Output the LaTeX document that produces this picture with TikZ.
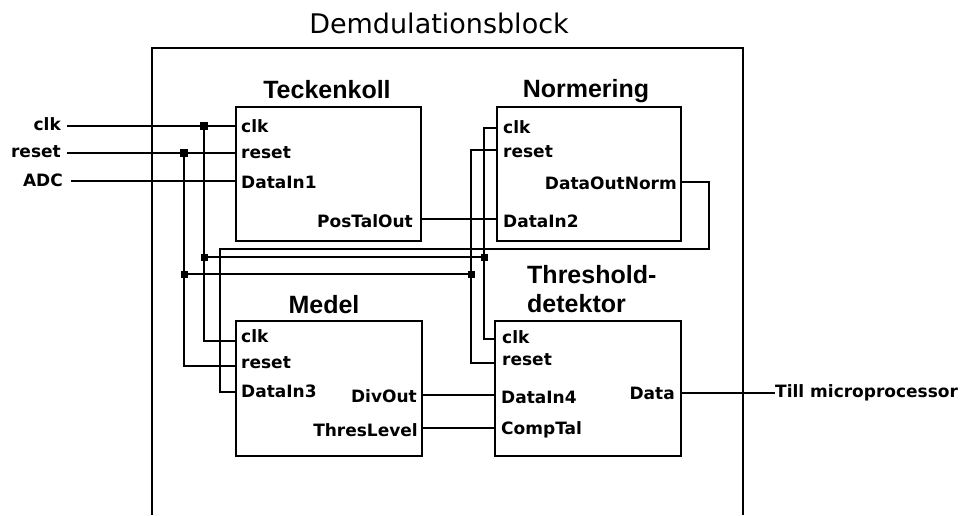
\documentclass[tikz,border=0pt]{standalone}
\usepackage{fontspec}
\setmainfont{DejaVu Sans}
\newfontfamily\titlefont{Liberation Sans}
\begin{document}
\begin{tikzpicture}[x=1pt, y=-1pt]
\tikzset{
  wire/.style={line width=2pt},
  blockbox/.style={draw, line width=2pt, rectangle, inner sep=0pt, outer sep=0pt, anchor=north west},
  pinlabel/.style={font=\fontsize{17}{20}\selectfont\bfseries, inner sep=0pt},
  blocktitle/.style={font=\titlefont\fontsize{25}{28}\selectfont\bfseries, inner sep=0pt},
  maintitle/.style={font=\fontsize{27}{31}\selectfont, inner sep=0pt},
  junction/.style={fill, rectangle, minimum size=7pt, inner sep=0pt},
  bigjunction/.style={junction, minimum size=8pt}
}
\useasboundingbox (0,0) rectangle (965,515);

% enclosing block, open at the bottom
\draw[line width=2pt] (152,515) -- (152,48) -- (743,48) -- (743,515);
\node[maintitle, anchor=base] (maintitle) at (439,33) {Demdulationsblock};

% sub-blocks
\node[blockbox, minimum width=185pt, minimum height=134pt] (tk) at (236,107) {};
\node[blockbox, minimum width=184pt, minimum height=134pt] (nm) at (497,107) {};
\node[blockbox, minimum width=186pt, minimum height=135pt] (md) at (236,321) {};
\node[blockbox, minimum width=186pt, minimum height=135pt] (th) at (495,321) {};

\node[blocktitle, anchor=base] (tkname) at (327,98) {Teckenkoll};
\node[blocktitle, anchor=base] (nmname) at (586,97) {Normering};
\node[blocktitle, anchor=base] (mdname) at (324,313) {Medel};
\node[blocktitle, anchor=base west] (thname1) at (527,283) {Threshold-};
\node[blocktitle, anchor=base west] (thname2) at (527,312) {detektor};

% port labels
\node[pinlabel, anchor=base west] (tkclkl) at (241,132) {clk};
\node[pinlabel, anchor=base west] (tkrstl) at (241,158) {reset};
\node[pinlabel, anchor=base west] (tkinl) at (241,188) {DataIn1};
\node[pinlabel, anchor=base east] (tkoutl) at (413,227) {PosTalOut};

\node[pinlabel, anchor=base west] (nmclkl) at (503,133) {clk};
\node[pinlabel, anchor=base west] (nmrstl) at (503,157) {reset};
\node[pinlabel, anchor=base east] (nmoutl) at (677,189) {DataOutNorm};
\node[pinlabel, anchor=base west] (nminl) at (503,227) {DataIn2};

\node[pinlabel, anchor=base west] (mdclkl) at (241,342) {clk};
\node[pinlabel, anchor=base west] (mdrstl) at (241,368) {reset};
\node[pinlabel, anchor=base west] (mdinl) at (241,397) {DataIn3};
\node[pinlabel, anchor=base east] (mddivl) at (417,402) {DivOut};
\node[pinlabel, anchor=base east] (mdthrl) at (418,436) {ThresLevel};

\node[pinlabel, anchor=base west] (thclkl) at (502,343) {clk};
\node[pinlabel, anchor=base west] (thrstl) at (502,365) {reset};
\node[pinlabel, anchor=base west] (thinl) at (501,403) {DataIn4};
\node[pinlabel, anchor=base west] (thcmpl) at (501,434) {CompTal};
\node[pinlabel, anchor=base east] (thdatl) at (675,399) {Data};

% external signals
\node[pinlabel, anchor=base east] (extclk) at (61,130) {clk};
\node[pinlabel, anchor=base east] (extrst) at (61,157) {reset};
\node[pinlabel, anchor=base east] (extadc) at (63,186) {ADC};
\node[pinlabel, anchor=west] (till) at (775,393) {Till microprocessor};

% pin points on the block edges
\coordinate (inclk) at (67,126);
\coordinate (inrst) at (67,153);
\coordinate (inadc) at (71,181);
\coordinate (tkclk) at (236,126);
\coordinate (tkrst) at (236,153);
\coordinate (tkin) at (236,181);
\coordinate (tkout) at (421,219);
\coordinate (nmclk) at (497,128);
\coordinate (nmrst) at (497,150);
\coordinate (nmout) at (681,182);
\coordinate (nmin) at (497,219);
\coordinate (mdclk) at (236,341);
\coordinate (mdrst) at (236,366);
\coordinate (mdin) at (236,392);
\coordinate (mddiv) at (422,395);
\coordinate (mdthr) at (422,428);
\coordinate (thclk) at (495,339);
\coordinate (thrst) at (495,363);
\coordinate (thin) at (495,395);
\coordinate (thcmp) at (495,428);
\coordinate (thdat) at (681,393);
\coordinate (loopright) at (709,249);
\coordinate (loopleft) at (220,249);

% junctions
\node[bigjunction] (j1) at (204,126) {};
\node[junction] (j2) at (204,257) {};
\node[junction] (j3) at (484,257) {};
\node[bigjunction] (j4) at (184,153) {};
\node[junction] (j5) at (184,274) {};
\node[junction] (j6) at (471,274) {};

% clock net
\draw[wire] (inclk) -- (tkclk);
\draw[wire] (j1.center) |- (mdclk);
\draw[wire] (j2.center) -- (j3.center);
\draw[wire] (nmclk) -| (j3.center) |- (thclk);

% reset net
\draw[wire] (inrst) -- (tkrst);
\draw[wire] (j4.center) |- (mdrst);
\draw[wire] (j5.center) -- (j6.center);
\draw[wire] (nmrst) -| (j6.center) |- (thrst);

% data paths
\draw[wire] (inadc) -- (tkin);
\draw[wire] (tkout) -- (nmin);
\draw[wire] (nmout) -| (loopright) -- (loopleft) |- (mdin);
\draw[wire] (mddiv) -- (thin);
\draw[wire] (mdthr) -- (thcmp);
\draw[wire] (thdat) -- (till.west);
\end{tikzpicture}
\end{document}
